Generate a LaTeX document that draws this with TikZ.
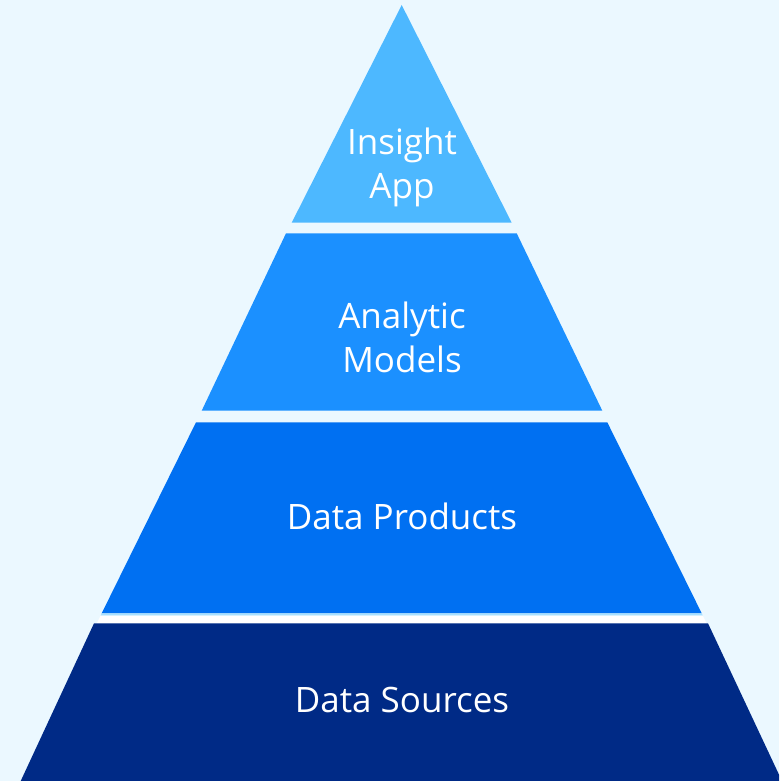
\documentclass[tikz,border=0pt]{standalone}
\usepackage{fontspec}
\setmainfont{Open Sans}
\definecolor{bgblue}{HTML}{EBF8FF}
\definecolor{lone}{HTML}{4DB8FF}
\definecolor{ltwo}{HTML}{1B90FF}
\definecolor{lthree}{HTML}{0070F2}
\definecolor{lfour}{HTML}{002A86}
\definecolor{sepline}{HTML}{A6E0FF}
\tikzset{
  lbl/.style={text=white, font=\fontsize{35}{44}\selectfont, align=center, inner sep=0pt},
}
\begin{document}
\begin{tikzpicture}[x=1pt,y=-1pt]
\fill[bgblue] (0,0) rectangle (779,781);
\useasboundingbox (0,0) rectangle (779,781);
\clip (0,0) rectangle (779,781);
\fill[lone] (401.7,5) -- (511.7,222.7) -- (291.7,222.7) -- cycle;
\fill[ltwo] (286,233.3) -- (516.7,233.3) -- (602.3,410.7) -- (201.7,410.7) -- cycle;
\fill[lthree] (196,422.3) -- (607.3,422.3) -- (701.7,613.3) -- (101.7,613.3) -- cycle;
\fill[sepline] (101.7,613.3) -- (701.7,613.3) -- (702.8,615.6) -- (100.6,615.6) -- cycle;
\fill[white] (100.6,615.6) -- (702.8,615.6) -- (706.5,623.3) -- (96.8,623.3) -- cycle;
\fill[lfour] (94,623.3) -- (708,623.3) -- (782,781) -- (20.7,781) -- cycle;
\node[lbl] (insight) at (402,167) {Insight\\App};
\node[lbl] (analytic) at (402,337) {Analytic\\Models};
\node[lbl, anchor=base] (products) at (402,529.3) {Data Products};
\node[lbl, anchor=base] (sources) at (402,712.5) {Data Sources};
\end{tikzpicture}
\end{document}
